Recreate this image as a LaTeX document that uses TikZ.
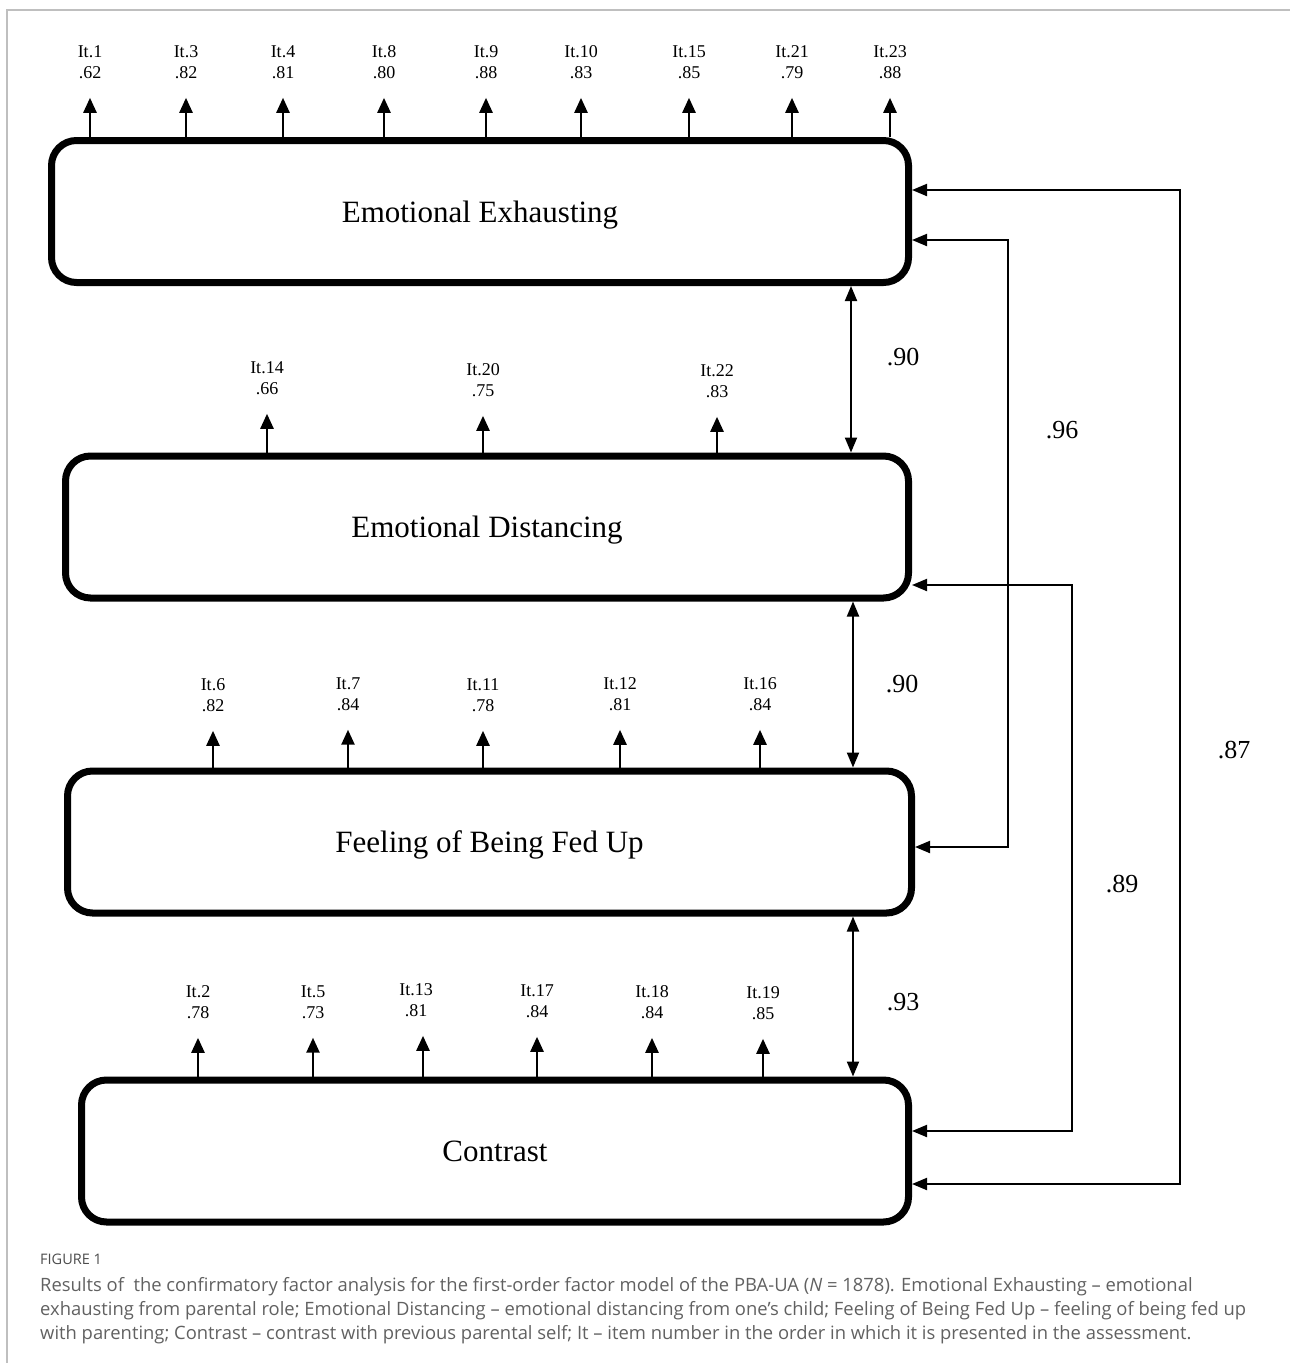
\documentclass[tikz,border=0pt]{standalone}
\usepackage{fontspec}
\setmainfont{Liberation Serif}
\newfontfamily\capfont{Open Sans}
\usepackage{xcolor}
\usetikzlibrary{positioning, arrows.meta}

\tikzset{
    factor/.style={draw, line width=7pt, rounded corners=25pt,
        minimum height=142pt, inner sep=0pt, text depth=0pt,
        font=\fontsize{31}{34}\selectfont},
    itemlab/.style={align=center, inner sep=0pt,
        font=\fontsize{18}{21}\selectfont},
    loading/.style={-{Triangle[length=15pt,width=13pt]},
        line width=2.5pt, shorten >=19pt},
    corr/.style={{Triangle[length=15pt,width=12pt]}-{Triangle[length=15pt,width=12pt]},
        line width=2pt},
    coef/.style={inner sep=0pt, font=\fontsize{26}{30}\selectfont}
}

\begin{document}
\begin{tikzpicture}[x=1pt, y=-1pt]

    \useasboundingbox (0,0) rectangle (1290,1363);
    \draw[black!25, line width=1.5pt] (7,1363) -- (7,10) -- (1290,10);

    \node[factor, minimum width=857pt] (ee) at (480,211.5) {Emotional Exhausting};
    \node[factor, minimum width=843pt] (ed) at (487,527) {Emotional Distancing};
    \node[factor, minimum width=844pt] (fb) at (489.5,842) {Feeling of Being Fed Up};
    \node[factor, minimum width=827pt] (ct) at (495,1151) {Contrast};

    \node[itemlab] (it1) at (90,62) {It.1\\.62};
    \node[itemlab] (it3) at (186,62) {It.3\\.82};
    \node[itemlab] (it4) at (283,62) {It.4\\.81};
    \node[itemlab] (it8) at (384,62) {It.8\\.80};
    \node[itemlab] (it9) at (486,62) {It.9\\.88};
    \node[itemlab] (it10) at (581,62) {It.10\\.83};
    \node[itemlab] (it15) at (689,62) {It.15\\.85};
    \node[itemlab] (it21) at (792,62) {It.21\\.79};
    \node[itemlab] (it23) at (890,62) {It.23\\.88};

    \draw[loading] (it1 |- ee.north) -- (it1.south);
    \draw[loading] (it3 |- ee.north) -- (it3.south);
    \draw[loading] (it4 |- ee.north) -- (it4.south);
    \draw[loading] (it8 |- ee.north) -- (it8.south);
    \draw[loading] (it9 |- ee.north) -- (it9.south);
    \draw[loading] (it10 |- ee.north) -- (it10.south);
    \draw[loading] (it15 |- ee.north) -- (it15.south);
    \draw[loading] (it21 |- ee.north) -- (it21.south);
    \draw[loading] (it23 |- ee.north) -- (it23.south);

    \node[itemlab] (it14) at (267,378) {It.14\\.66};
    \node[itemlab] (it20) at (483,380) {It.20\\.75};
    \node[itemlab] (it22) at (717,381) {It.22\\.83};

    \draw[loading] (it14 |- ed.north) -- (it14.south);
    \draw[loading] (it20 |- ed.north) -- (it20.south);
    \draw[loading] (it22 |- ed.north) -- (it22.south);

    \node[itemlab] (it6) at (213,695) {It.6\\.82};
    \node[itemlab] (it7) at (348,694) {It.7\\.84};
    \node[itemlab] (it11) at (483,695) {It.11\\.78};
    \node[itemlab] (it12) at (620,694) {It.12\\.81};
    \node[itemlab] (it16) at (760,694) {It.16\\.84};

    \draw[loading] (it6 |- fb.north) -- (it6.south);
    \draw[loading] (it7 |- fb.north) -- (it7.south);
    \draw[loading] (it11 |- fb.north) -- (it11.south);
    \draw[loading] (it12 |- fb.north) -- (it12.south);
    \draw[loading] (it16 |- fb.north) -- (it16.south);

    \node[itemlab] (it2) at (198,1002) {It.2\\.78};
    \node[itemlab] (it5) at (313,1002) {It.5\\.73};
    \node[itemlab] (it13) at (416,1000) {It.13\\.81};
    \node[itemlab] (it17) at (537,1001) {It.17\\.84};
    \node[itemlab] (it18) at (652,1002) {It.18\\.84};
    \node[itemlab] (it19) at (763,1003) {It.19\\.85};

    \draw[loading] (it2 |- ct.north) -- (it2.south);
    \draw[loading] (it5 |- ct.north) -- (it5.south);
    \draw[loading] (423,0 |- ct.north) -- (423,0 |- it13.south);
    \draw[loading] (it17 |- ct.north) -- (it17.south);
    \draw[loading] (it18 |- ct.north) -- (it18.south);
    \draw[loading] (it19 |- ct.north) -- (it19.south);

    \draw[corr] (851,0 |- ee.south) -- (851,0 |- ed.north);
    \draw[corr] (853,0 |- ed.south) -- (853,0 |- fb.north);
    \draw[corr] (853,0 |- fb.south) -- (853,0 |- ct.north);

    \draw[corr] (ct.east |- 0,1184) -- (1180,1184) -- (1180,190)
        -- (ee.east |- 0,190);
    \draw[corr] (fb.east |- 0,847) -- (1008,847) -- (1008,240)
        -- (ee.east |- 0,240);
    \draw[corr] (ct.east |- 0,1131) -- (1072,1131) -- (1072,585)
        -- (ed.east |- 0,585);

    \node[coef] (r1) at (903,357) {.90};
    \node[coef] (r2) at (902,684) {.90};
    \node[coef] (r3) at (903,1002) {.93};
    \node[coef] (r4) at (1062,430) {.96};
    \node[coef] (r5) at (1122,884) {.89};
    \node[coef] (r6) at (1234,750) {.87};

    \node[anchor=north west, inner sep=0pt, text=black!70,
        font=\capfont\fontsize{14.5}{16}\selectfont]
        (fig) at (40,1254) {FIGURE 1};
    \node[anchor=north west, inner sep=0pt, align=left, text=black!62,
        font=\capfont\fontsize{18.4}{24}\selectfont]
        (cap) at (40,1277) {Results of\ \ the confirmatory factor analysis for the first-order factor model of the PBA-UA (\textit{N} = 1878). Emotional Exhausting – emotional\\
        exhausting from parental role; Emotional Distancing – emotional distancing from one’s child; Feeling of Being Fed Up – feeling of being fed up\\
        with parenting; Contrast – contrast with previous parental self; It – item number in the order in which it is presented in the assessment.};

\end{tikzpicture}
\end{document}
